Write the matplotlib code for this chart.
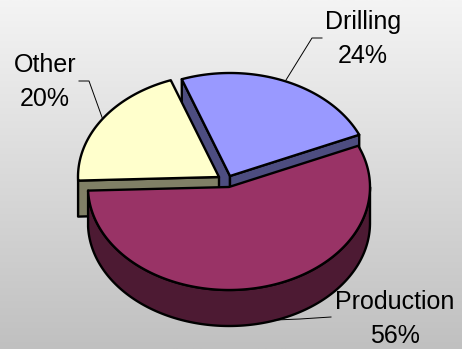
import numpy as np
import matplotlib
matplotlib.use("Agg")
import matplotlib.pyplot as plt
from matplotlib.patches import Polygon
from matplotlib.colors import LinearSegmentedColormap

labels = ['Drilling', 'Production', 'Other']
shares = [24, 56, 20]
top_colors = ['#9999ff', '#993366', '#ffffcc']
wall_colors = ['#4d4d80', '#4d1a33', '#808066']

plt.rcParams['font.family'] = ['Liberation Sans', 'DejaVu Sans']

W, H = 462, 349
cx, cy = 229, 187
rx, ry = 141, 103
depth = 36
start_angle = 110
# how far each slice is pulled out of the pie, pixels
offsets = [(1, -11), (0, 0), (-10, -10)]

fig = plt.figure(figsize=(W / 100, H / 100), dpi=100)
ax = fig.add_axes([0, 0, 1, 1])
ax.set_xlim(0, W)
ax.set_ylim(H, 0)
ax.axis('off')

# background gradient
bg = LinearSegmentedColormap.from_list('bg', ['#f4f4f4', '#c0c0c0'])
ax.imshow(np.linspace(0, 1, 256).reshape(-1, 1), cmap=bg, aspect='auto',
          extent=[0, W, H, 0], zorder=0)


def arc(a0, a1, ox, oy, dy=0):
    t = np.radians(np.linspace(a0, a1, 200))
    return np.column_stack([cx + ox + rx * np.cos(t), cy + oy + dy - ry * np.sin(t)])


def add(pts, color, z):
    ax.add_patch(Polygon(pts, closed=True, facecolor=color, edgecolor='black',
                         linewidth=1.7, joinstyle='round', zorder=z))


# slice angles from the shares, clockwise
angles = [start_angle]
for s in shares:
    angles.append(angles[-1] - s / sum(shares) * 360)

# drilling walls, behind everything
a0, a1 = angles[0], angles[1]
ox, oy = offsets[0]
apex = np.array([cx + ox, cy + oy])
for a in (a0, a1):
    p = arc(a, a, ox, oy)[0]
    add([apex, p, p + [0, depth], apex + [0, depth]], wall_colors[0], 2)

# other walls
a0, a1 = angles[2], angles[3]
ox, oy = offsets[2]
apex = np.array([cx + ox, cy + oy])
p = arc(a0, a0, ox, oy)[0]
add([apex, p, p + [0, depth], apex + [0, depth]], wall_colors[2], 3)

# top faces of the two pulled slices
for i in (2, 0):
    ox, oy = offsets[i]
    apex = [cx + ox, cy + oy]
    add(np.vstack([[apex], arc(angles[i], angles[i + 1], ox, oy)]), top_colors[i], 4)

# production: outer wall then top
a0, a1 = angles[1], angles[2]
front_a = max(a1, -180)
front_b = min(a0, 0)
upper = arc(front_b, front_a, 0, 0)
lower = arc(front_a, front_b, 0, 0, depth)
add(np.vstack([upper, lower]), wall_colors[1], 5)
add(np.vstack([[[cx, cy]], arc(a0, a1, 0, 0)]), top_colors[1], 6)

# leader lines
ax.plot([286, 312, 322], [80, 38, 38], color='black', lw=0.7, zorder=7)
ax.plot([103, 89, 79], [120, 81, 81], color='black', lw=0.7, zorder=3.5)
ax.plot([275, 300, 331], [320, 319, 317], color='black', lw=0.7, zorder=7)

# labels
label_pos = [(363, 39), (394.5, 319), (45, 82)]
for name, s, (x, y) in zip(labels, shares, label_pos):
    ax.text(x, y, f'{name}\n{s}%', ha='center', va='center', fontsize=18,
            linespacing=1.52, color='black', zorder=8)

fig.savefig('out.png', dpi=100)
